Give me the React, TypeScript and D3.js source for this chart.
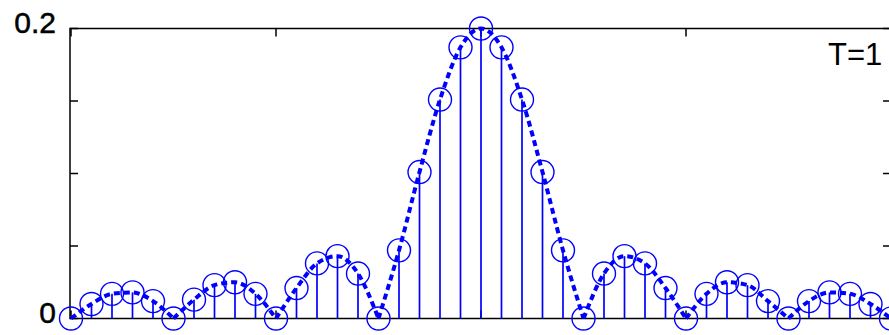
import React, { useEffect } from 'react';
import * as d3 from 'd3';

// sample index n and magnitude
const samples = d3.range(-20, 21);
const values = [
  0, 0.010, 0.017, 0.018, 0.012, 0, 0.013, 0.023, 0.025, 0.017,
  0, 0.021, 0.038, 0.043, 0.031, 0, 0.047, 0.101, 0.151, 0.187,
  0.2,
  0.187, 0.151, 0.101, 0.047, 0, 0.031, 0.043, 0.038, 0.021,
  0, 0.017, 0.025, 0.023, 0.012, 0, 0.012, 0.018, 0.017, 0.010,
  0,
];
const yTicks = [0, 0.05, 0.1, 0.15, 0.2];
const yTickLabels = ['0', '', '', '', '0.2'];
const xTicks = [-20, -10, 0, 10, 20];
const label = 'T=1';

const blue = '#0000ff';
const W = 889;
const H = 335;

export default function App() {
  useEffect(() => {
    document.body.style.margin = '0';
  }, []);

  const x = d3.scaleLinear().domain([-20, 20]).range([71, 891]);
  const y = d3.scaleLinear().domain([0, 0.2]).range([318.5, 28.5]);

  const data = samples.map((n, i) => ({ n, v: values[i] }));

  // split envelope into lobes at the zero samples so the cusps stay sharp
  const lobes: { n: number; v: number }[][] = [];
  let cur: { n: number; v: number }[] = [];
  data.forEach((d, i) => {
    cur.push(d);
    if (d.v === 0 && i > 0) {
      lobes.push(cur);
      cur = [d];
    }
  });
  const line = d3.line<{ n: number; v: number }>()
    .x(d => x(d.n))
    .y(d => y(d.v))
    .curve(d3.curveMonotoneX);

  const x0 = x.range()[0];
  const x1 = x.range()[1];
  const tk = 8;

  return (
    <svg width={W} height={H} style={{ display: 'block', background: '#fff' }}
      fontFamily="'Liberation Sans', Arial, sans-serif">
      {/* frame */}
      <g stroke="#000" strokeWidth={1.5} fill="none">
        <rect x={x0 - 1} y={y(0.2)} width={x1 - x0 + 1} height={y(0) - y(0.2)} />
        {yTicks.map(t => (
          <g key={'y' + t}>
            <line x1={x0 - 1} x2={x0 - 1 + tk} y1={y(t)} y2={y(t)} />
            <line x1={x1} x2={x1 - tk} y1={y(t)} y2={y(t)} />
          </g>
        ))}
        {xTicks.map(t => (
          <g key={'x' + t}>
            <line x1={x(t)} x2={x(t)} y1={y(0.2)} y2={y(0.2) + tk} />
            <line x1={x(t)} x2={x(t)} y1={y(0)} y2={y(0) - tk} />
          </g>
        ))}
      </g>
      {yTicks.map((t, i) => yTickLabels[i] ? (
        <text key={'yl' + t} x={56} y={y(t) + 4.5} textAnchor="end" fontSize={30}
          stroke="#000" strokeWidth={0.5} fill="#000">
          {yTickLabels[i]}
        </text>
      ) : null)}
      <text x={828} y={65} fontSize={31} fill="#000">{label}</text>

      {/* stems */}
      <g stroke={blue} strokeWidth={1.7} fill="none">
        {data.map(d => (
          <line key={'s' + d.n} x1={x(d.n)} x2={x(d.n)} y1={y(0)} y2={y(d.v)} />
        ))}
        {data.map(d => (
          <circle key={'c' + d.n} cx={x(d.n)} cy={y(d.v)} r={11.5} strokeWidth={1.4} />
        ))}
      </g>

      {/* dashed envelope */}
      <g stroke={blue} strokeWidth={4} fill="none" strokeDasharray="6,4">
        {lobes.map((l, i) => (
          <path key={'e' + i} d={line(l) || ''} />
        ))}
      </g>
    </svg>
  );
}
